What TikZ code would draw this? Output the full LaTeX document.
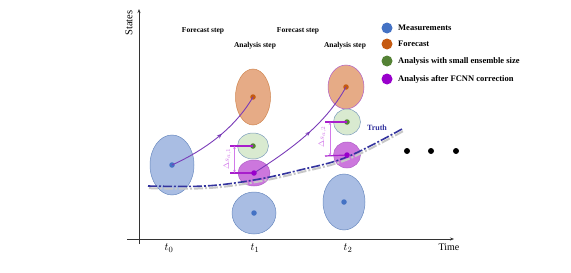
\documentclass[tikz,border=0pt]{standalone}
\usepackage{fontspec}
\setmainfont{Liberation Serif}
\usetikzlibrary{shapes.geometric,arrows.meta,decorations.markings}
\definecolor{measfill}{HTML}{A9BDE3}
\definecolor{measdraw}{HTML}{6A8AC0}
\definecolor{measdot}{HTML}{4472C4}
\definecolor{forefill}{HTML}{E6AB86}
\definecolor{foredraw}{HTML}{D08650}
\definecolor{foredot}{HTML}{C55A11}
\definecolor{greenfill}{HTML}{D9EAD0}
\definecolor{greendraw}{HTML}{7C9CBC}
\definecolor{greendot}{HTML}{548235}
\definecolor{purpfill}{HTML}{CC77DD}
\definecolor{purpdraw}{HTML}{B060C8}
\definecolor{purpdot}{HTML}{9900CC}
\definecolor{arrowpurple}{HTML}{7A3CB8}
\definecolor{magline}{HTML}{A81ECC}
\definecolor{maglight}{HTML}{D27AEA}
\definecolor{truthblue}{HTML}{34349E}
\tikzset{
  ell/.style={ellipse, inner sep=0pt, line width=0.5pt},
  meas/.style={ell, fill=measfill, draw=measdraw},
  fore/.style={ell, fill=forefill, draw=foredraw},
  grn/.style={ell, fill=greenfill, draw=greendraw},
  purp/.style={ell, fill=purpfill, draw=purpdraw},
  cdot/.style={circle, inner sep=0pt, minimum size=5.5pt},
  legdot/.style={circle, inner sep=0pt, minimum size=11pt},
  legtext/.style={anchor=west, font=\fontsize{8.5}{10}\selectfont\bfseries, inner sep=0pt},
  steptext/.style={font=\fontsize{7.5}{9}\selectfont\bfseries, inner sep=0pt},
  flow/.style={draw=arrowpurple, line width=0.9pt, postaction={decorate},
    decoration={markings, mark=at position 0.55 with {\arrow[arrowpurple]{Stealth[length=5pt,width=4pt]}}}},
  hline/.style={draw=magline, line width=1.2pt},
  dline/.style={draw=maglight, line width=0.7pt, {Stealth[length=3pt,width=2.5pt]}-{Stealth[length=3pt,width=2.5pt]}},
  dlabel/.style={text=maglight, font=\fontsize{8}{9}\selectfont, rotate=90, inner sep=0pt},
  axis/.style={draw=black!80, line width=0.7pt},
  bigdot/.style={circle, fill=black, inner sep=0pt, minimum size=6pt}
}
\begin{document}
\begin{tikzpicture}[x=1pt,y=-1pt]
\useasboundingbox (0,0) rectangle (571,273);
% axes
\coordinate (yb) at (139,244);
\coordinate (yt) at (139,9);
\coordinate (xl) at (127,239);
\coordinate (xr) at (454,239);
\draw[axis,-{Stealth[length=4pt,width=3pt]}] (yb) -- (yt);
\draw[axis,-{Stealth[length=4pt,width=3pt]}] (xl) -- (xr);
\node[rotate=90, font=\fontsize{10.5}{12}\selectfont, inner sep=0pt] (states) at (129,23) {States};
\node[font=\fontsize{10}{12}\selectfont, inner sep=0pt] (time) at (449,247) {Time};
\node[font=\fontsize{11}{12}\selectfont, inner sep=0pt] (t0) at (169,248) {$t_0$};
\node[font=\fontsize{11}{12}\selectfont, inner sep=0pt] (t1) at (255,248) {$t_1$};
\node[font=\fontsize{11}{12}\selectfont, inner sep=0pt] (t2) at (348,248) {$t_2$};
% step labels
\node[steptext] (fs1) at (203,31) {Forecast step};
\node[steptext] (fs2) at (298,31) {Forecast step};
\node[steptext] (as1) at (255,46) {Analysis step};
\node[steptext] (as2) at (345,46) {Analysis step};
% ellipses
\node[meas, minimum width=44pt, minimum height=60pt] (m0) at (172,165) {};
\node[meas, minimum width=44pt, minimum height=42pt] (m1) at (254,213) {};
\node[fore, minimum width=35pt, minimum height=56pt] (f1) at (253,97) {};
\node[grn, minimum width=31pt, minimum height=26pt] (g1) at (253,146) {};
\node[purp, minimum width=32pt, minimum height=26pt] (p1) at (254,173) {};
\node[meas, minimum width=42pt, minimum height=56pt] (m2) at (344,202) {};
\node[fore, draw=purpdraw, minimum width=36pt, minimum height=44pt] (f2) at (346,87) {};
\node[grn, minimum width=27pt, minimum height=26pt] (g2) at (347,122) {};
\node[purp, minimum width=27pt, minimum height=26pt] (p2) at (347,155) {};
% truth curve
\draw[black!22, line width=2pt, dash pattern=on 9pt off 2pt on 2pt off 2pt, xshift=1pt, yshift=-2.2pt]
  plot[smooth, tension=0.6] coordinates {(148,186) (205,186) (254,180) (300,170) (347,157) (402,129)};
\draw[truthblue, line width=1.6pt, dash pattern=on 9pt off 2pt on 2pt off 2pt]
  plot[smooth, tension=0.6] coordinates {(148,186) (205,186) (254,180) (300,170) (347,157) (402,129)};
\node[font=\fontsize{8}{9}\selectfont\bfseries, text=truthblue, inner sep=0pt] (truth) at (377,128) {Truth};
% center dots
\node[cdot, fill=measdot] (m0c) at (m0.center) {};
\node[cdot, fill=measdot] (m1c) at (m1.center) {};
\node[cdot, fill=measdot] (m2c) at (m2.center) {};
\node[cdot, fill=foredot] (f1c) at (f1.center) {};
\node[cdot, fill=foredot] (f2c) at (f2.center) {};
\node[cdot, fill=greendot] (g1c) at (g1.center) {};
\node[cdot, fill=greendot] (g2c) at (g2.center) {};
% flow arrows
\draw[flow] (m0.center) .. controls (205,150) and (235,128) .. (f1.center);
\draw[flow] (p1.center) .. controls (290,150) and (325,125) .. (f2.center);
% delta lines t1
\coordinate (h1a) at (230,146);
\coordinate (h1b) at (230,173);
\draw[hline] (h1a) -- (g1.center);
\draw[hline] (h1b) -- (p1.center);
\coordinate (v1a) at (234.5,146);
\coordinate (v1b) at (234.5,173);
\draw[dline] (v1a) -- (v1b);
\node[dlabel] (dl1) at (227.5,159) {$\Delta s_{a,1}$};
% delta lines t2
\coordinate (h2a) at (325,122);
\coordinate (h2b) at (325,156);
\draw[hline] (h2a) -- (g2.center);
\draw[hline] (h2b) -- (p2.center);
\coordinate (v2a) at (330,122);
\coordinate (v2b) at (330,156);
\draw[dline] (v2a) -- (v2b);
\node[dlabel] (dl2) at (322.5,137) {$\Delta s_{a,2}$};
\node[cdot, fill=purpdot] (p1c) at (p1.center) {};
\node[cdot, fill=purpdot] (p2c) at (p2.center) {};
% ellipsis dots
\node[bigdot] (e1) at (407,151) {};
\node[bigdot] (e2) at (431,151) {};
\node[bigdot] (e3) at (456,151) {};
% legend
\node[legdot, fill=measdot] (l1) at (387,28) {};
\node[legdot, fill=foredot] (l2) at (387,44) {};
\node[legdot, fill=greendot] (l3) at (387,61) {};
\node[legdot, fill=purpdot] (l4) at (387,79) {};
\node[legtext] (lt1) at (398,28) {Measurements};
\node[legtext] (lt2) at (398,44) {Forecast};
\node[legtext] (lt3) at (398,61) {Analysis with small ensemble size};
\node[legtext] (lt4) at (398,79) {Analysis after FCNN correction};
\end{tikzpicture}
\end{document}
